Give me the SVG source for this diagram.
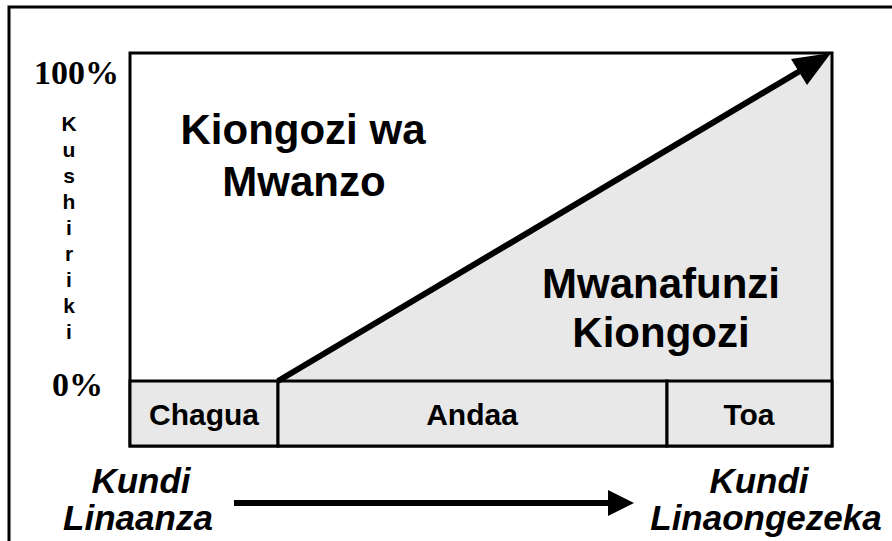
<svg xmlns="http://www.w3.org/2000/svg" width="892" height="541" viewBox="0 0 892 541">
<style>
.frame{fill:none;stroke:#000;stroke-width:3}
.box{fill:#e8e8e8;stroke:#000;stroke-width:3}
.big{font-family:"Liberation Sans",Arial,sans-serif;font-weight:bold;font-size:42px;fill:#000;text-anchor:middle}
.phase{font-family:"Liberation Sans",Arial,sans-serif;font-weight:bold;font-size:30px;fill:#000;text-anchor:middle}
.axis{font-family:"Liberation Serif","Times New Roman",serif;font-weight:bold;font-size:34px;fill:#000}
.vert{font-family:"Liberation Sans",Arial,sans-serif;font-weight:bold;font-size:21px;fill:#000;text-anchor:middle}
.grp{font-family:"Liberation Sans",Arial,sans-serif;font-weight:bold;font-style:italic;font-size:35px;fill:#000;text-anchor:middle}
</style>
<rect x="0" y="0" width="892" height="541" fill="#fff"/>
<rect class="frame" x="9" y="7" width="900" height="560"/>
<g id="chart">
<rect x="130" y="53" width="702" height="328" fill="#fff" stroke="none"/>
<polygon points="278,381 832,53 832,381" fill="#e8e8e8"/>
<rect class="frame" x="130" y="53" width="702" height="393"/>
</g>
<g id="phase-chagua"><rect class="box" x="130" y="381" width="148" height="65"/><text class="phase" x="204" y="425">Chagua</text></g>
<g id="phase-andaa"><rect class="box" x="278" y="381" width="389" height="65"/><text class="phase" x="472" y="425">Andaa</text></g>
<g id="phase-toa"><rect class="box" x="667" y="381" width="165" height="65"/><text class="phase" x="749" y="425">Toa</text></g>
<g id="label-kiongozi"><text class="big" x="303" y="144">Kiongozi wa</text><text class="big" x="304" y="196">Mwanzo</text></g>
<g id="label-mwanafunzi"><text class="big" x="661" y="298">Mwanafunzi</text><text class="big" x="661" y="347">Kiongozi</text></g>
<g id="axis-labels">
<text class="axis" x="34" y="84">100%</text>
<text class="axis" x="52" y="396">0%</text>
<text class="vert" x="69" y="131">K</text>
<text class="vert" x="69" y="157">u</text>
<text class="vert" x="69" y="183">s</text>
<text class="vert" x="69" y="209">h</text>
<text class="vert" x="69" y="235">i</text>
<text class="vert" x="69" y="261">r</text>
<text class="vert" x="69" y="287">i</text>
<text class="vert" x="69" y="313">k</text>
<text class="vert" x="69" y="339">i</text>
</g>
<g id="label-start"><text class="grp" x="141" y="493">Kundi</text><text class="grp" x="138" y="530">Linaanza</text></g>
<g id="label-end"><text class="grp" x="759" y="493">Kundi</text><text class="grp" x="766" y="530">Linaongezeka</text></g>
<g id="connectors">
<line x1="278" y1="381" x2="805" y2="68" stroke="#000" stroke-width="6"/>
<polygon points="831,53 807,85 791,59" fill="#000"/>
<line x1="234" y1="503" x2="612" y2="503" stroke="#000" stroke-width="6"/>
<polygon points="608,490 634,503 608,516" fill="#000"/>
</g>
</svg>
